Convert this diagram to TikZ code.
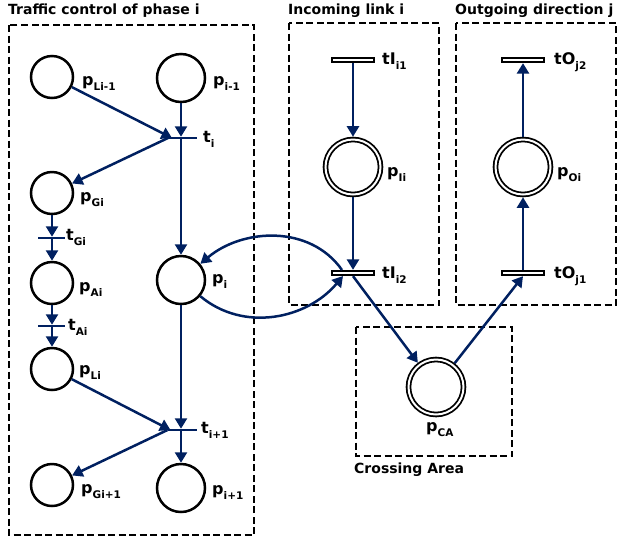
\documentclass[tikz,border=0pt]{standalone}
\usepackage{fontspec}
\setmainfont{DejaVu Sans Bold}
\usetikzlibrary{arrows.meta,calc}
\definecolor{navy}{HTML}{002060}
\newcommand\lb[2]{#1\raisebox{-5pt}{\fontsize{10.5}{10.5}\selectfont #2}}
\begin{document}
\begin{tikzpicture}[x=1pt,y=1pt,
  place/.style={circle,draw=black,line width=2.5pt,inner sep=0pt},
  pl/.style={place,minimum size=42pt},
  pr/.style={place,minimum size=48pt},
  dplace/.style={circle,draw=black,line width=1.8pt,double=white,double distance=2pt,minimum size=55pt,inner sep=0pt,outer sep=2.8pt},
  tbar/.style={fill=navy,minimum width=29pt,minimum height=2.5pt,inner sep=0pt,outer sep=0pt},
  trans/.style={rectangle,draw=black,fill=white,line width=1.8pt,minimum width=41.5pt,minimum height=4.5pt,inner sep=0pt},
  arr/.style={navy,line width=2.5pt,-{Triangle[length=10.5pt,width=12pt]}},
  box/.style={draw=black,line width=2.4pt,dash pattern=on 7pt off 3.5pt},
  ttl/.style={font=\fontsize{14}{14}\selectfont,anchor=base west,inner sep=0pt},
  lab/.style={font=\fontsize{16}{16}\selectfont,anchor=base west,inner sep=0pt}]
\useasboundingbox (0,0) rectangle (618,-542);
% boxes
\draw[box] (9,-25) rectangle (254,-535);
\draw[box] (289,-23) rectangle (439,-305);
\draw[box] (456,-23) rectangle (616,-305);
\draw[box] (356,-327) rectangle (512,-456);
% titles
\node[ttl] (tt1) at (8,-14) {Traffic control of phase i};
\node[ttl] (tt2) at (288,-14) {Incoming link i};
\node[ttl] (tt3) at (455,-14) {Outgoing direction j};
\node[ttl] (tt4) at (354,-473) {Crossing Area};
% left places and transitions
\node[pl] (pL1) at (52,-77) {};
\node[pr] (pi1) at (181,-78) {};
\node[tbar] (ti) at (182.5,-138) {};
\node[pl] (pG) at (52,-193) {};
\node[tbar,minimum width=27pt] (tG) at (51,-238) {};
\node[pl] (pA) at (52,-283) {};
\node[tbar,minimum width=27pt] (tA) at (51,-326) {};
\node[pl] (pLi) at (52,-369) {};
\node[pr] (pi) at (181,-280) {};
\node[tbar] (ti2) at (182,-430) {};
\node[pl] (pG2) at (52,-485) {};
\node[pr] (pi2) at (181,-488) {};
% right places and transitions
\node[trans] (tI1) at (353,-60) {};
\node[dplace] (pI) at (353,-167) {};
\node[trans] (tI2) at (353,-273) {};
\node[trans] (tO2) at (523,-60) {};
\node[dplace] (pO) at (523,-167) {};
\node[trans] (tO1) at (523,-273) {};
\node[dplace] (pCA) at (436,-387) {};
\coordinate (cA) at (342,-270);
\coordinate (cB) at (343,-276);
% arcs left
\draw[arr] (pL1) -- ([xshift=4pt]ti.west);
\draw[arr] (pi1) -- (pi1 |- ti.north);
\draw[arr] (ti.west) -- (pG);
\draw[arr] (pi |- ti.south) -- (pi);
\draw[arr] (pG) -- (pG |- tG.north);
\draw[arr] (pA |- tG.south) -- (pA);
\draw[arr] (pA) -- (pA |- tA.north);
\draw[arr] (pLi |- tA.south) -- (pLi);
\draw[arr] (pLi) -- ([xshift=3pt]ti2.west);
\draw[arr] (pi) -- (pi |- ti2.north);
\draw[arr] (ti2.west) -- (pG2);
\draw[arr] (pi2 |- ti2.south) -- (pi2);
% arcs right
\draw[arr] (tI1.south) -- (pI.north);
\draw[arr] (pI.south) -- (tI2.north);
\draw[arr] (tO1.north) -- (pO.south);
\draw[arr] (pO.north) -- (tO2.south);
\draw[arr] (tI2.south) -- (pCA);
\draw[arr] (pCA) -- (tO1.south);
\draw[arr] (cA) to[out=125,in=40] (pi);
\draw[arr] (pi) to[out=-40,in=-130] (cB);
% labels
\node[lab] (lpL1) at (82,-85) {\lb{p}{Li-1}};
\node[lab] (lpi1) at (213,-85) {\lb{p}{i-1}};
\node[lab] (lti) at (203,-142) {\lb{t}{i}};
\node[lab] (lpG) at (80,-201) {\lb{p}{Gi}};
\node[lab] (ltG) at (66,-240) {\lb{t}{Gi}};
\node[lab] (lpA) at (79,-291) {\lb{p}{Ai}};
\node[lab] (ltA) at (68,-330) {\lb{t}{Ai}};
\node[lab] (lpLi) at (79,-374) {\lb{p}{Li}};
\node[lab] (lpi) at (212,-283) {\lb{p}{i}};
\node[lab] (lti2) at (201,-433) {\lb{t}{i+1}};
\node[lab] (lpG2) at (81,-493) {\lb{p}{Gi+1}};
\node[lab] (lpi2) at (212,-494) {\lb{p}{i+1}};
\node[lab] (ltI1) at (382,-64) {\lb{tI}{i1}};
\node[lab] (lpI) at (387,-176) {\lb{p}{Ii}};
\node[lab] (ltI2) at (382,-278) {\lb{tI}{i2}};
\node[lab] (ltO2) at (554,-64) {\lb{tO}{j2}};
\node[lab] (lpO) at (557,-176) {\lb{p}{Oi}};
\node[lab] (ltO1) at (554,-278) {\lb{tO}{j1}};
\node[lab] (lpCA) at (426,-431) {\lb{p}{CA}};
\end{tikzpicture}
\end{document}
